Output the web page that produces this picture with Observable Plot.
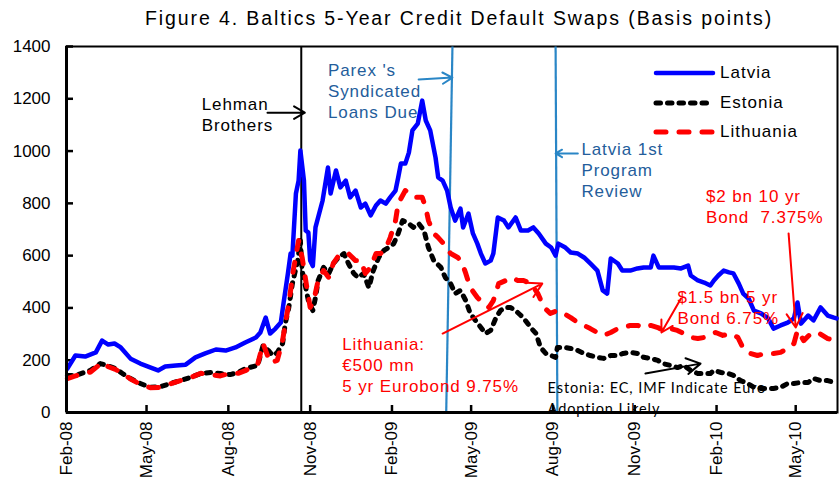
<!DOCTYPE html>
<html><head><meta charset="utf-8">
<script src="https://cdn.jsdelivr.net/npm/d3@7"></script>
<script src="https://cdn.jsdelivr.net/npm/@observablehq/plot@0.6"></script>
<style>
body{margin:0;background:#fff;font-family:"Liberation Sans",Arial,sans-serif;}
#wrap{position:relative;width:840px;height:488px;overflow:hidden;}
#title{height:36px;line-height:36px;font-size:19.5px;letter-spacing:1.9px;text-align:center;padding-left:78px;box-sizing:border-box;width:840px;white-space:nowrap;color:#000;}
.lg{position:absolute;height:22px;font-size:17px;letter-spacing:1px;line-height:22px;}
.lg svg{position:absolute;left:0;top:0;}
.lg span{position:absolute;left:67px;top:0;white-space:nowrap;}
</style></head><body>
<div id="wrap"><div id="title">Figure 4. Baltics 5-Year Credit Default Swaps (Basis points)</div><div id="chart"></div></div>
<script>
// ---- data (basis points) ----
const latvia = [["2008-02-02",168],["2008-02-11",218],["2008-02-22",214],["2008-03-05",230],["2008-03-12",275],["2008-03-19",260],["2008-03-26",264],["2008-04-02",249],["2008-04-13",206],["2008-04-24",187],["2008-05-05",173],["2008-05-14",161],["2008-05-22",176],["2008-06-03",180],["2008-06-14",183],["2008-06-25",211],["2008-07-06",226],["2008-07-18",241],["2008-07-29",237],["2008-08-09",249],["2008-08-20",268],["2008-09-01",287],["2008-09-06",306],["2008-09-12",363],["2008-09-17",302],["2008-09-23",321],["2008-09-29",344],["2008-10-02",417],["2008-10-07",532],["2008-10-10",608],["2008-10-12",600],["2008-10-16",838],["2008-10-19",887],["2008-10-21",1002],["2008-10-25",887],["2008-10-27",696],["2008-10-30",688],["2008-11-01",581],["2008-11-04",560],["2008-11-07",708],["2008-11-15",811],["2008-11-21",937],["2008-11-24",838],["2008-11-30",926],["2008-12-05",861],["2008-12-11",887],["2008-12-16",823],["2008-12-22",849],["2008-12-28",784],["2009-01-02",799],["2009-01-08",754],["2009-01-14",792],["2009-01-19",811],["2009-01-25",799],["2009-01-30",823],["2009-02-05",849],["2009-02-08",899],["2009-02-11",952],["2009-02-16",952],["2009-02-20",994],["2009-02-24",1079],["2009-03-02",1105],["2009-03-07",1193],["2009-03-11",1117],["2009-03-16",1079],["2009-03-22",975],["2009-03-25",899],["2009-03-30",887],["2009-04-04",849],["2009-04-08",784],["2009-04-13",734],["2009-04-19",780],["2009-04-22",708],["2009-04-28",761],["2009-05-03",685],["2009-05-08",646],["2009-05-12",608],["2009-05-17",570],["2009-05-23",581],["2009-05-26",608],["2009-05-31",746],["2009-06-07",734],["2009-06-12",708],["2009-06-20",746],["2009-06-26",696],["2009-07-04",696],["2009-07-10",708],["2009-07-16",685],["2009-07-24",646],["2009-07-30",631],["2009-08-04",600],["2009-08-07",646],["2009-08-15",631],["2009-08-21",612],["2009-08-29",608],["2009-09-05",593],["2009-09-12",570],["2009-09-20",543],["2009-09-26",467],["2009-10-01",455],["2009-10-05",589],["2009-10-13",570],["2009-10-18",543],["2009-10-27",543],["2009-11-04",551],["2009-11-11",555],["2009-11-19",555],["2009-11-22",600],["2009-11-28",555],["2009-12-06",555],["2009-12-15",555],["2009-12-23",551],["2009-12-31",562],["2010-01-03",524],["2010-01-11",505],["2010-01-18",497],["2010-01-25",486],["2010-01-29",505],["2010-02-03",524],["2010-02-09",543],["2010-02-15",536],["2010-02-20",532],["2010-02-26",493],["2010-03-03",455],["2010-03-09",436],["2010-03-15",390],["2010-03-23",379],["2010-03-31",360],["2010-04-06",321],["2010-04-14",333],["2010-04-22",344],["2010-04-29",360],["2010-05-03",421],["2010-05-07",340],["2010-05-15",371],["2010-05-21",352],["2010-05-29",402],["2010-06-06",371],["2010-06-13",363],["2010-06-16",360]];

const estonia = [["2008-02-02",142],["2008-02-11",142],["2008-02-28",161],["2008-03-10",187],["2008-03-18",180],["2008-03-27",168],["2008-04-04",149],["2008-04-13",130],["2008-04-24",111],["2008-05-05",96],["2008-05-17",99],["2008-05-28",111],["2008-06-08",122],["2008-06-19",134],["2008-07-01",149],["2008-07-12",153],["2008-07-23",149],["2008-08-03",145],["2008-08-12",153],["2008-08-20",168],["2008-09-03",180],["2008-09-09",256],["2008-09-15",237],["2008-09-20",218],["2008-09-25",229],["2008-10-01",264],["2008-10-04",340],["2008-10-08",402],["2008-10-12",493],["2008-10-18",581],["2008-10-21",658],["2008-10-23",543],["2008-10-27",478],["2008-10-30",428],["2008-11-04",390],["2008-11-07",440],["2008-11-10",505],["2008-11-16",555],["2008-11-22",532],["2008-11-27",570],["2008-12-03",593],["2008-12-09",608],["2008-12-14",570],["2008-12-20",532],["2008-12-25",516],["2008-12-31",532],["2009-01-06",478],["2009-01-11",543],["2009-01-17",593],["2009-01-23",620],["2009-01-28",631],["2009-02-03",646],["2009-02-08",685],["2009-02-13",734],["2009-02-20",723],["2009-02-25",708],["2009-03-03",723],["2009-03-09",696],["2009-03-14",631],["2009-03-20",581],["2009-03-28",555],["2009-04-02",516],["2009-04-08",493],["2009-04-13",455],["2009-04-19",467],["2009-04-25",428],["2009-04-30",379],["2009-05-06",352],["2009-05-12",325],["2009-05-17",302],["2009-05-23",314],["2009-05-29",363],["2009-06-03",390],["2009-06-09",402],["2009-06-14",402],["2009-06-20",390],["2009-06-26",371],["2009-07-01",352],["2009-07-07",325],["2009-07-13",302],["2009-07-18",249],["2009-07-24",226],["2009-07-30",218],["2009-08-04",211],["2009-08-06",249],["2009-08-13",249],["2009-08-21",245],["2009-08-29",237],["2009-09-05",226],["2009-09-12",218],["2009-09-20",211],["2009-09-27",207],["2009-10-05",218],["2009-10-13",218],["2009-10-19",226],["2009-10-27",230],["2009-11-04",226],["2009-11-11",211],["2009-11-19",207],["2009-11-27",199],["2009-12-03",187],["2009-12-11",180],["2009-12-19",172],["2009-12-26",180],["2010-01-03",161],["2010-01-11",149],["2010-01-18",149],["2010-01-25",149],["2010-01-29",161],["2010-02-06",153],["2010-02-14",149],["2010-02-20",142],["2010-02-28",122],["2010-03-08",111],["2010-03-15",96],["2010-03-23",92],["2010-03-31",92],["2010-04-06",92],["2010-04-14",96],["2010-04-22",111],["2010-04-29",111],["2010-05-07",115],["2010-05-15",115],["2010-05-21",130],["2010-05-29",122],["2010-06-06",122],["2010-06-13",115],["2010-06-16",111]];

const lithuania = [["2008-02-02",130],["2008-02-11",140],["2008-02-28",155],["2008-03-12",191],["2008-03-19",175],["2008-03-27",165],["2008-04-04",150],["2008-04-13",128],["2008-04-24",108],["2008-05-05",95],["2008-05-17",96],["2008-05-28",110],["2008-06-08",122],["2008-06-19",133],["2008-07-01",150],["2008-07-12",145],["2008-07-23",140],["2008-08-03",150],["2008-08-12",150],["2008-08-20",160],["2008-09-03",185],["2008-09-09",264],["2008-09-17",191],["2008-09-25",199],["2008-10-01",275],["2008-10-04",340],["2008-10-08",417],["2008-10-13",543],["2008-10-19",658],["2008-10-23",593],["2008-10-27",505],["2008-11-01",402],["2008-11-05",428],["2008-11-10",505],["2008-11-16",543],["2008-11-22",516],["2008-11-27",570],["2008-12-03",600],["2008-12-09",600],["2008-12-14",608],["2008-12-22",581],["2008-12-28",581],["2009-01-02",532],["2009-01-08",555],["2009-01-14",608],["2009-01-19",608],["2009-01-25",627],["2009-01-30",669],["2009-02-05",734],["2009-02-08",799],["2009-02-16",849],["2009-02-22",838],["2009-02-27",823],["2009-03-07",823],["2009-03-11",784],["2009-03-14",734],["2009-03-20",685],["2009-03-25",669],["2009-03-31",646],["2009-04-08",608],["2009-04-16",593],["2009-04-21",570],["2009-04-25",532],["2009-04-30",478],["2009-05-08",440],["2009-05-15",417],["2009-05-21",402],["2009-05-26",428],["2009-06-01",493],["2009-06-09",505],["2009-06-17",516],["2009-06-22",505],["2009-06-29",505],["2009-07-07",493],["2009-07-15",455],["2009-07-22",402],["2009-07-29",379],["2009-08-06",390],["2009-08-13",379],["2009-08-21",363],["2009-08-29",344],["2009-09-05",333],["2009-09-12",321],["2009-09-20",306],["2009-09-27",295],["2009-10-05",306],["2009-10-13",321],["2009-10-19",325],["2009-10-27",333],["2009-11-04",333],["2009-11-11",325],["2009-11-19",333],["2009-11-27",325],["2009-12-03",314],["2009-12-11",321],["2009-12-19",314],["2009-12-26",302],["2010-01-03",287],["2010-01-11",283],["2010-01-18",287],["2010-01-22",295],["2010-01-31",306],["2010-02-08",295],["2010-02-17",302],["2010-02-25",287],["2010-03-03",245],["2010-03-11",226],["2010-03-19",218],["2010-03-28",226],["2010-04-06",226],["2010-04-14",230],["2010-04-22",245],["2010-04-29",264],["2010-05-03",314],["2010-05-10",275],["2010-05-18",302],["2010-05-26",306],["2010-06-06",283],["2010-06-13",275],["2010-06-16",268]];

const seriesNames = ["Latvia", "Estonia", "Lithuania"];
const xDomain = ["2008-02-01", "2010-06-17"];
const yTicks = [0, 200, 400, 600, 800, 1000, 1200, 1400];
const xTickDates = ["2008-02-01","2008-05-01","2008-08-01","2008-11-01","2009-02-01","2009-05-01","2009-08-01","2009-11-01","2010-02-01","2010-05-01"];
const xTickLabels = ["Feb-08","May-08","Aug-08","Nov-08","Feb-09","May-09","Aug-09","Nov-09","Feb-10","May-10"];

// event lines
const lehmanDate = "2008-10-22";
const eventLinks = [
  {name: "Parex", top: "2009-04-10", bottom: "2009-04-03"},
  {name: "Review", top: "2009-08-04", bottom: "2009-08-06"}
];

// annotations: anchor date, value at top of first line
const annotations = [
  {x: "2008-07-02", y: 1216, text: "Lehman\nBrothers", color: "#000000"},
  {x: "2008-11-21", y: 1346, text: "Parex 's\nSyndicated\nLoans Due", color: "#245d9b"},
  {x: "2009-09-02", y: 1044, text: "Latvia 1st\nProgram\nReview", color: "#245d9b"},
  {x: "2010-01-20", y: 861, text: "$2 bn 10 yr\nBond  7.375%", color: "#ff0000"},
  {x: "2009-12-19", y: 478, text: "$1.5 bn 5 yr\nBond 6.75%", color: "#ff0000"},
  {x: "2008-12-07", y: 298, text: "Lithuania:\n€500 mn\n5 yr Eurobond 9.75%", color: "#ff0000"}
];
const smallNote = {x: "2009-07-26", y: 130, text: "Estonia: EC, IMF Indicate Euro\nAdoption Likely"};

const arrows = [
  {x1: "2008-09-14", y1: 1147, x2: "2008-10-26", y2: 1147, color: "#000000"},
  {x1: "2009-03-03", y1: 1274, x2: "2009-04-10", y2: 1281, color: "#2a86c6"},
  {x1: "2009-08-29", y1: 991, x2: "2009-08-04", y2: 991, color: "#2a86c6"},
  {x1: "2010-04-23", y1: 685, x2: "2010-05-01", y2: 325, color: "#ff0000"},
  {x1: "2009-12-23", y1: 436, x2: "2009-12-01", y2: 306, color: "#ff0000"},
  {x1: "2009-03-30", y1: 302, x2: "2009-07-20", y2: 493, color: "#ff0000"},
  {x1: "2009-11-13", y1: 149, x2: "2010-01-14", y2: 187, color: "#000000"}
];

// ---- build ----
const parse = d3.utcParse("%Y-%m-%d");
const rows = (name, arr) => arr.map(([d, v]) => ({series: name, date: parse(d), value: v}));
const lv = rows("Latvia", latvia), ee = rows("Estonia", estonia), lt = rows("Lithuania", lithuania);
const tickDates = xTickDates.map(parse);
const labelMap = new Map(tickDates.map((d, i) => [+d, xTickLabels[i]]));
const styles = {
  Latvia: {stroke: "#0000ff", strokeWidth: 4.5, strokeDasharray: null, strokeLinecap: "round"},
  Estonia: {stroke: "#000000", strokeWidth: 5, strokeDasharray: "4.5 7", strokeLinecap: "round"},
  Lithuania: {stroke: "#ff0000", strokeWidth: 5, strokeDasharray: "10 13", strokeLinecap: "round"}
};
const ann = annotations.map(a => ({...a, date: parse(a.x)}));
const arr = arrows.map(a => ({...a, d1: parse(a.x1), d2: parse(a.x2)}));
const links = eventLinks.map(e => ({t: parse(e.top), b: parse(e.bottom), y1: yTicks[yTicks.length-1], y2: 0}));
const note = {...smallNote, date: parse(smallNote.x)};
const x0 = parse(xDomain[0]);

const chart = Plot.plot({
  width: 840, height: 452,
  marginTop: 10, marginBottom: 76, marginLeft: 66, marginRight: 3,
  style: {fontFamily: "'Liberation Sans', Arial, sans-serif", fontSize: "17px", background: "white", color: "black", overflow: "visible"},
  x: {type: "utc", domain: xDomain.map(parse), label: null},
  y: {domain: [0, 1400], label: null},
  marks: [
    Plot.axisY(yTicks, {tickSize: 0, tickPadding: 16, fontSize: 17, tickFormat: d => String(d), label: null}),
    Plot.axisY(yTicks, {tickSize: -7, tickFormat: () => "", strokeWidth: 2.5, label: null}),
    Plot.axisX(tickDates, {tickSize: 0, tickRotate: -90, tickPadding: 9, fontSize: 17, tickFormat: d => labelMap.get(+d), label: null}),
    Plot.axisX(tickDates, {tickSize: -7, tickFormat: () => "", strokeWidth: 2.5, label: null}),
    Plot.frame({stroke: "black", strokeWidth: 2}),
    Plot.ruleX([parse(lehmanDate)], {stroke: "black", strokeWidth: 2}),
    Plot.link(links, {x1: "t", y1: "y1", x2: "b", y2: "y2", stroke: "#2a86c6", strokeWidth: 2.2}),
    Plot.line(lv, {x: "date", y: "value", ...styles.Latvia, strokeLinejoin: "round"}),
    Plot.line(ee, {x: "date", y: "value", ...styles.Estonia, strokeLinejoin: "round"}),
    Plot.line(lt, {x: "date", y: "value", ...styles.Lithuania, strokeLinejoin: "round"}),
    Plot.ruleY([0], {stroke: "black", strokeWidth: 3}),
    Plot.ruleX([x0], {stroke: "black", strokeWidth: 3}),
    Plot.arrow(arr, {x1: "d1", y1: "y1", x2: "d2", y2: "y2", stroke: "color", strokeWidth: 2, headLength: 12}),
    Plot.text(ann, {x: "date", y: "y", text: "text", fill: "color", textAnchor: "start", lineAnchor: "top", lineHeight: 1.24, fontSize: 17}),
    Plot.text([note], {x: "date", y: "y", text: "text", fill: "black", textAnchor: "start", lineAnchor: "top", lineHeight: 1.45, fontSize: 14.5, fontFamily: "Lato, 'Open Sans', sans-serif"})
  ]
});
d3.select(chart).selectAll('g[aria-label="text"] text').style("letter-spacing", "0.9px");
document.getElementById("chart").appendChild(chart);

// legend (inside plot area, top right)
const wrap = document.getElementById("wrap");
seriesNames.forEach((name, i) => {
  const s = styles[name];
  const div = document.createElement("div");
  div.className = "lg";
  div.style.left = "653px";
  div.style.top = (62 + i * 29.5) + "px";
  div.innerHTML = `<svg width="64" height="22"><line x1="3" x2="60" y1="11" y2="11" stroke="${s.stroke}" stroke-width="${s.strokeWidth}" stroke-linecap="round" ${s.strokeDasharray ? `stroke-dasharray="${s.strokeDasharray}"` : ""}/></svg><span>${name}</span>`;
  wrap.appendChild(div);
});
</script>
</body></html>
